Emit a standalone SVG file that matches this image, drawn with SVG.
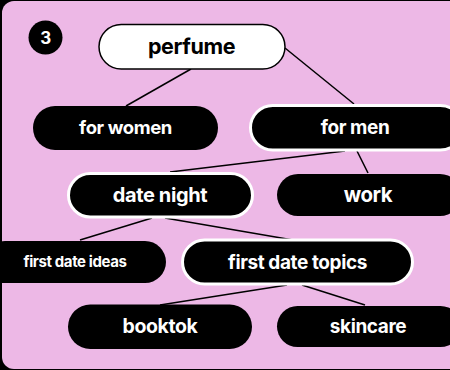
<svg xmlns="http://www.w3.org/2000/svg" width="450" height="370" viewBox="0 0 450 370">
<style>
.pill{fill:#000}
.ring{fill:#000;stroke:#fff;stroke-width:3}
.t{font-family:Inter,"Liberation Sans",sans-serif;font-weight:700;fill:#fff;text-anchor:middle;letter-spacing:-0.4px}
.dark{fill:#000}
.edge{stroke:#000;stroke-width:1.5;fill:none}
</style>
<rect x="0" y="0" width="450" height="370" fill="#000"/>
<rect x="2" y="1" width="460" height="368" rx="12" fill="#edb8e6"/>
<g id="connectors">
<line class="edge" x1="191" y1="69" x2="126" y2="106"/>
<line class="edge" x1="285" y1="48" x2="354" y2="104"/>
<line class="edge" x1="345" y1="151" x2="170" y2="172"/>
<line class="edge" x1="357" y1="151" x2="368" y2="173"/>
<line class="edge" x1="152" y1="218" x2="80" y2="240"/>
<line class="edge" x1="165" y1="218" x2="293" y2="240"/>
<line class="edge" x1="287" y1="285" x2="160" y2="305"/>
<line class="edge" x1="302" y1="285" x2="365" y2="305"/>
</g>
<g id="badge">
<circle cx="45.5" cy="37.5" r="17" fill="#000"/>
<text class="t" x="45.5" y="43.5" font-size="17">3</text>
</g>
<g id="perfume">
<rect x="99" y="24.5" width="186" height="44.5" rx="22.25" fill="#fff" stroke="#000" stroke-width="1.5"/>
<text class="t dark" x="191.5" y="54" font-size="21.5">perfume</text>
</g>
<g id="for-women">
<rect class="pill" x="33" y="106" width="185" height="44" rx="22"/>
<text class="t" x="125.5" y="134" font-size="18.5">for women</text>
</g>
<g id="for-men">
<rect class="ring" x="250.5" y="105.5" width="212" height="44.5" rx="22.25"/>
<text class="t" x="355" y="134" font-size="19">for men</text>
</g>
<g id="date-night">
<rect class="ring" x="68.5" y="173.5" width="184" height="43.5" rx="21.75"/>
<text class="t" x="160" y="201.5" font-size="20">date night</text>
</g>
<g id="work">
<rect class="pill" x="277" y="174" width="184" height="42" rx="21"/>
<text class="t" x="368" y="202" font-size="20.5">work</text>
</g>
<g id="first-date-ideas">
<rect class="pill" x="-16" y="241" width="182" height="42" rx="21"/>
<text class="t" x="75" y="267" font-size="15">first date ideas</text>
</g>
<g id="first-date-topics">
<rect class="ring" x="182.5" y="240" width="230" height="44" rx="22"/>
<text class="t" x="297.5" y="268.5" font-size="19">first date topics</text>
</g>
<g id="booktok">
<rect class="pill" x="68" y="304.5" width="184" height="44.5" rx="22.25"/>
<text class="t" x="160" y="333" font-size="19.5">booktok</text>
</g>
<g id="skincare">
<rect class="pill" x="277" y="306" width="184" height="41" rx="20.5"/>
<text class="t" x="368" y="333" font-size="19">skincare</text>
</g>
</svg>
